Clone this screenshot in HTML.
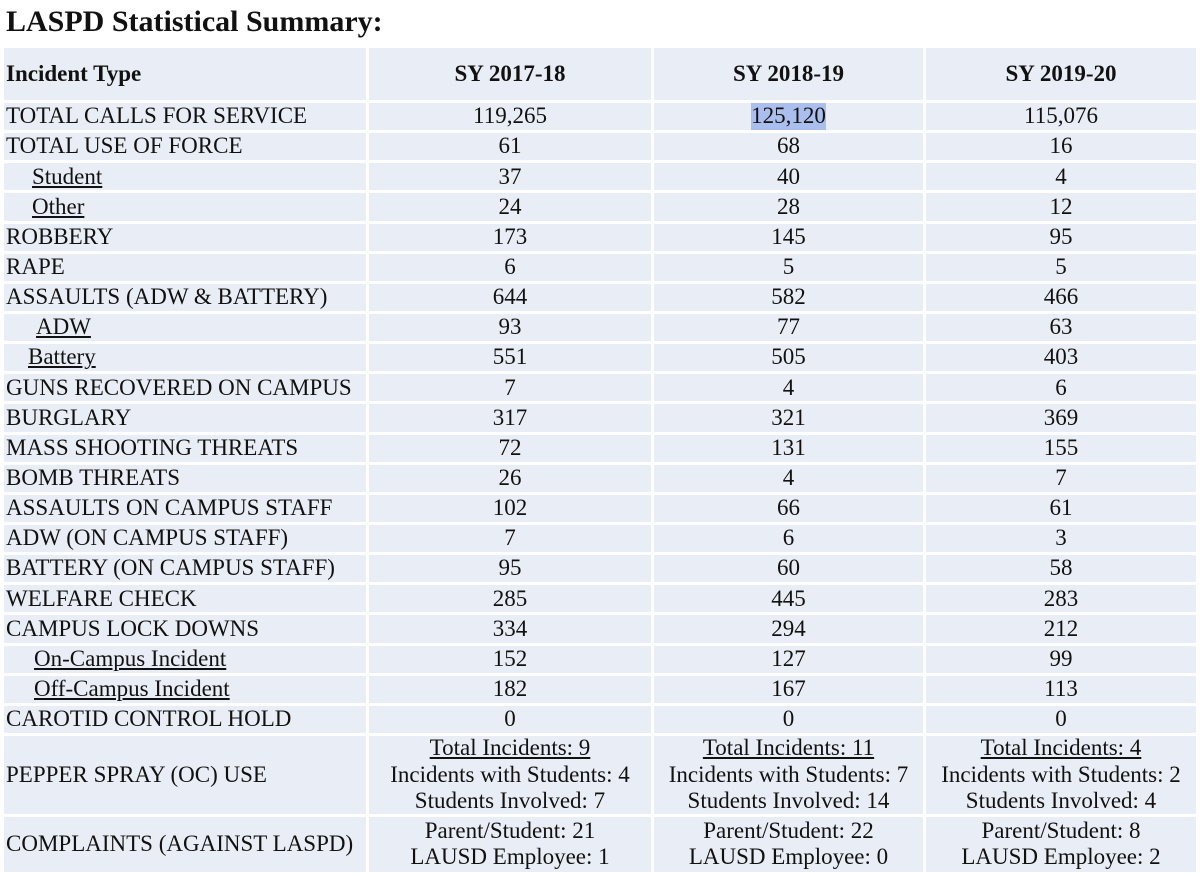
<!DOCTYPE html>
<html><head><meta charset="utf-8"><style>
html,body{margin:0;padding:0;background:#fff;width:1200px;height:875px;overflow:hidden}
body{font-family:"Liberation Serif","Times New Roman",serif;color:#111;position:relative}
h1{position:absolute;left:6px;top:3px;margin:0;font-size:30px;font-weight:bold;line-height:38px}
.g{position:absolute;left:4px;top:48px;display:grid;grid-template-columns:362px 282px 269px 270px;grid-template-rows:52px repeat(21,27.15px) 78px 55px;gap:3px}
.g div{background:#e9edf5;font-size:23px;display:flex;align-items:center;justify-content:center;white-space:nowrap;line-height:26.5px;font-family:"Liberation Serif","Times New Roman",serif}
.g div.l{justify-content:flex-start;padding-left:2px}
.g div.h{font-weight:bold;font-size:23px}
.g div.m{flex-direction:column}
u{text-decoration:underline}
.hl{background:#aabfee}
</style></head><body>
<h1>LASPD Statistical Summary:</h1>
<div class="g">
<div class="l h">Incident Type</div><div class="h">SY 2017-18</div><div class="h">SY 2018-19</div><div class="h">SY 2019-20</div>
<div class="l">TOTAL CALLS FOR SERVICE</div><div>119,265</div><div><span class="hl">125,120</span></div><div>115,076</div>
<div class="l">TOTAL USE OF FORCE</div><div>61</div><div>68</div><div>16</div>
<div class="l" style="padding-left:28px"><u>Student</u></div><div>37</div><div>40</div><div>4</div>
<div class="l" style="padding-left:28px"><u>Other</u></div><div>24</div><div>28</div><div>12</div>
<div class="l">ROBBERY</div><div>173</div><div>145</div><div>95</div>
<div class="l">RAPE</div><div>6</div><div>5</div><div>5</div>
<div class="l">ASSAULTS (ADW &amp; BATTERY)</div><div>644</div><div>582</div><div>466</div>
<div class="l" style="padding-left:32px"><u>ADW</u></div><div>93</div><div>77</div><div>63</div>
<div class="l" style="padding-left:24px"><u>Battery</u></div><div>551</div><div>505</div><div>403</div>
<div class="l">GUNS RECOVERED ON CAMPUS</div><div>7</div><div>4</div><div>6</div>
<div class="l">BURGLARY</div><div>317</div><div>321</div><div>369</div>
<div class="l">MASS SHOOTING THREATS</div><div>72</div><div>131</div><div>155</div>
<div class="l">BOMB THREATS</div><div>26</div><div>4</div><div>7</div>
<div class="l">ASSAULTS ON CAMPUS STAFF</div><div>102</div><div>66</div><div>61</div>
<div class="l">ADW (ON CAMPUS STAFF)</div><div>7</div><div>6</div><div>3</div>
<div class="l">BATTERY (ON CAMPUS STAFF)</div><div>95</div><div>60</div><div>58</div>
<div class="l">WELFARE CHECK</div><div>285</div><div>445</div><div>283</div>
<div class="l">CAMPUS LOCK DOWNS</div><div>334</div><div>294</div><div>212</div>
<div class="l" style="padding-left:30px"><u>On-Campus Incident</u></div><div>152</div><div>127</div><div>99</div>
<div class="l" style="padding-left:30px"><u>Off-Campus Incident</u></div><div>182</div><div>167</div><div>113</div>
<div class="l">CAROTID CONTROL HOLD</div><div>0</div><div>0</div><div>0</div>
<div class="l">PEPPER SPRAY (OC) USE</div>
<div class="m"><u>Total Incidents: 9</u><span>Incidents with Students: 4</span><span>Students Involved: 7</span></div>
<div class="m"><u>Total Incidents: 11</u><span>Incidents with Students: 7</span><span>Students Involved: 14</span></div>
<div class="m"><u>Total Incidents: 4</u><span>Incidents with Students: 2</span><span>Students Involved: 4</span></div>
<div class="l">COMPLAINTS (AGAINST LASPD)</div>
<div class="m"><span>Parent/Student: 21</span><span>LAUSD Employee: 1</span></div>
<div class="m"><span>Parent/Student: 22</span><span>LAUSD Employee: 0</span></div>
<div class="m"><span>Parent/Student: 8</span><span>LAUSD Employee: 2</span></div>
</div>
</body></html>
